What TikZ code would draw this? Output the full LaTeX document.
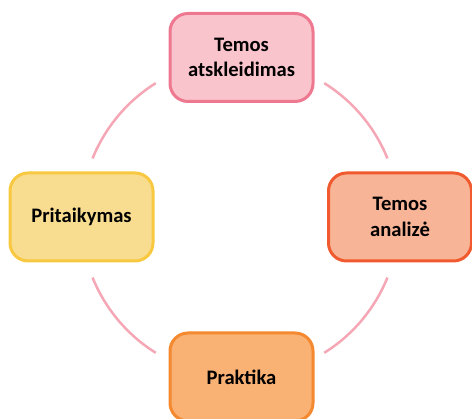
\documentclass[tikz,border=0pt]{standalone}
\usepackage{fontspec}
\setmainfont{Carlito}
\definecolor{arcpink}{HTML}{F5A7B5}
\definecolor{topfill}{HTML}{F9C4CC}
\definecolor{topdraw}{HTML}{EE7890}
\definecolor{rightfill}{HTML}{F8B497}
\definecolor{rightdraw}{HTML}{F05A2E}
\definecolor{botfill}{HTML}{F9B174}
\definecolor{botdraw}{HTML}{F4892F}
\definecolor{leftfill}{HTML}{F8DD90}
\definecolor{leftdraw}{HTML}{F8C940}
\tikzset{
  stagebox/.style={rectangle, rounded corners=18pt, line width=3pt,
    minimum width=143pt, minimum height=88pt, align=center,
    font=\bfseries\fontsize{20.6}{25.5}\selectfont, text=black, inner sep=2pt},
  ringarc/.style={draw=arcpink, line width=2.5pt}
}
\begin{document}
\begin{tikzpicture}[x=1pt,y=1pt]
\useasboundingbox (0,0) rectangle (472,419);
\coordinate (c) at (240,201);
\draw[ringarc] ([shift={(22:159)}]c) arc[start angle=22,end angle=58,radius=159];
\draw[ringarc] ([shift={(122:159)}]c) arc[start angle=122,end angle=158,radius=159];
\draw[ringarc] ([shift={(202:159)}]c) arc[start angle=202,end angle=238,radius=159];
\draw[ringarc] ([shift={(302:159)}]c) arc[start angle=302,end angle=338,radius=159];
\node[stagebox, fill=topfill, draw=topdraw] (top) at (241.5,361.5) {Temos\\atskleidimas};
\node[stagebox, fill=rightfill, draw=rightdraw] (right) at (400,202) {Temos\\analizė};
\node[stagebox, fill=botfill, draw=botdraw] (bottom) at (241.5,42) {Praktika};
\node[stagebox, fill=leftfill, draw=leftdraw] (left) at (81.5,202) {Pritaikymas};
\end{tikzpicture}
\end{document}
